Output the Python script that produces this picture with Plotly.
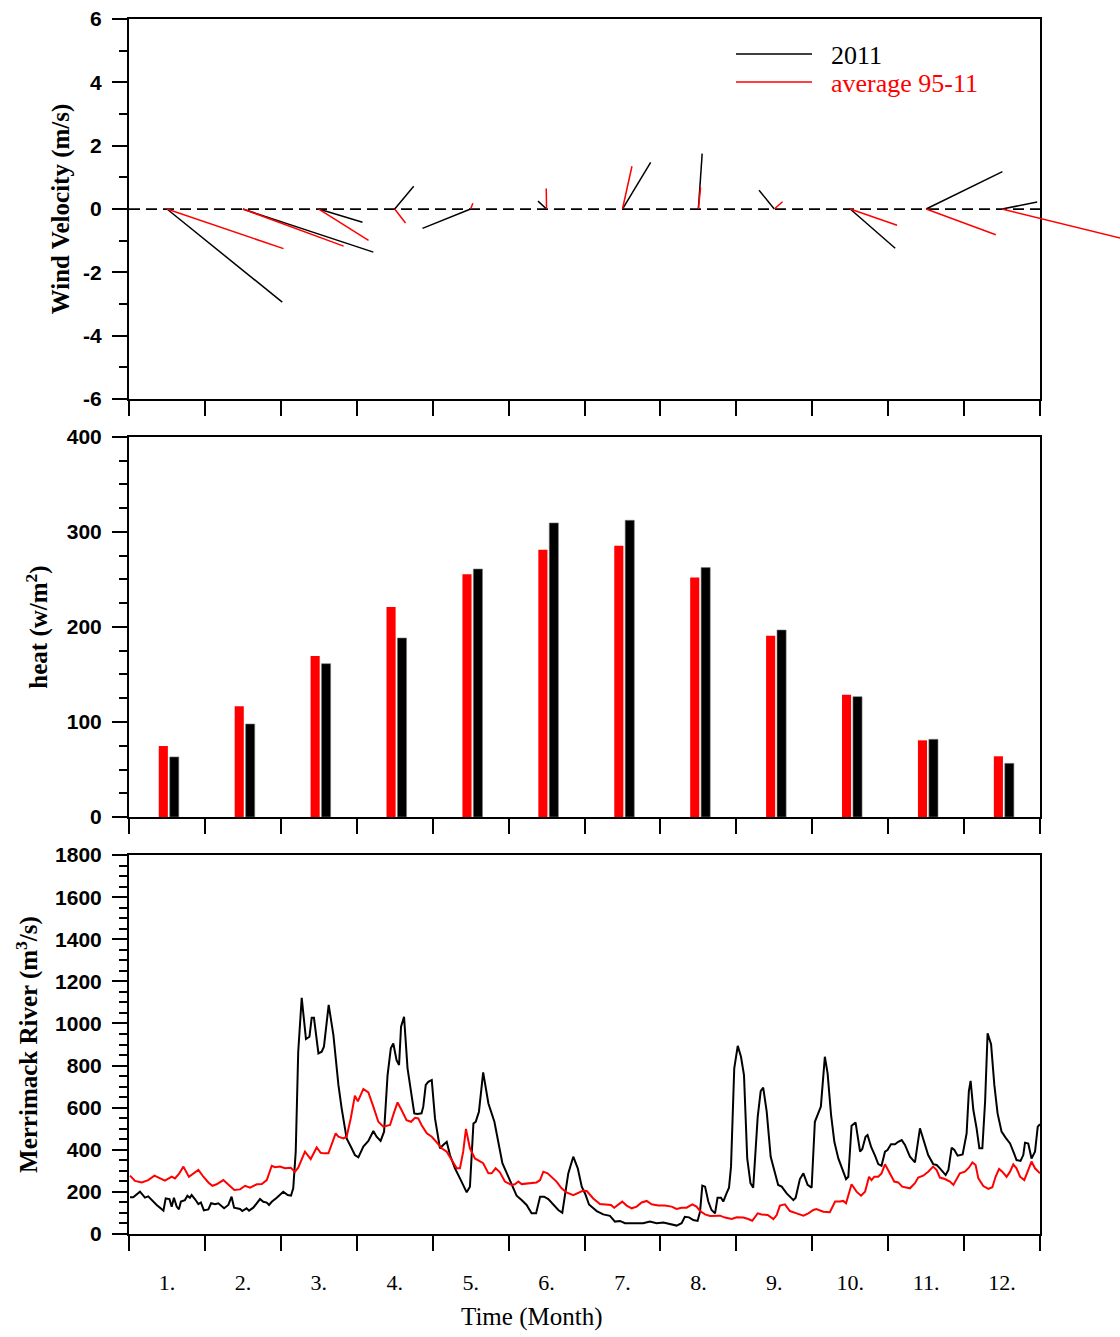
import plotly.graph_objects as go

# ---------------------------------------------------------------- data
month_labels = ["1.", "2.", "3.", "4.", "5.", "6.", "7.", "8.", "9.", "10.", "11.", "12."]

# monthly mean wind vectors (m/s): east (u) and north (v) components
wind_u_2011 = [3.64, 4.12, 1.38, 0.60, -1.52, -0.27, 0.89, 0.12, -0.48, 1.42, 2.41, 1.11]
wind_v_2011 = [-2.94, -1.36, -0.42, 0.72, -0.61, 0.25, 1.47, 1.75, 0.59, -1.24, 1.18, 0.22]
wind_u_avg = [3.68, 3.18, 1.57, 0.34, 0.07, -0.01, 0.30, 0.07, 0.26, 1.48, 2.20, 4.90]
wind_v_avg = [-1.25, -1.17, -0.99, -0.44, 0.18, 0.65, 1.35, 0.68, 0.23, -0.51, -0.81, -1.20]

# monthly mean surface heat flux (W/m2)
heat_avg = [74.7, 116.5, 169.5, 221.0, 255.4, 281.4, 285.6, 252.0, 190.9, 128.8, 80.7, 63.9]
heat_2011 = [63.2, 97.9, 161.4, 188.4, 261.0, 309.5, 312.3, 262.5, 196.8, 126.7, 81.8, 56.5]

# Merrimack River discharge (m3/s) by day of year
river_2011_day = [
    0.4, 1.7, 4.4, 6.4, 7.7, 11.1, 13.8, 14.7, 16.2, 17.1, 18.0, 19.1, 20.0, 20.8, 22.4, 23.4,
    24.4, 25.1, 26.4, 27.8, 28.8, 30.0, 31.8, 32.9, 34.5, 35.8, 38.1, 39.8, 41.1, 42.1, 44.5,
    45.4, 47.1, 48.1, 49.8, 52.5, 53.8, 55.2, 56.1, 57.2, 59.2, 61.8, 63.6, 64.9, 65.8, 66.8,
    67.8, 69.2, 70.9, 72.3, 73.2, 74.1, 75.9, 77.2, 78.1, 80.0, 81.9, 83.9, 85.2, 87.2, 89.2,
    90.5, 91.9, 93.9, 95.9, 97.9, 99.2, 100.8, 102.2, 103.6, 104.9, 105.9, 107.2, 108.2, 109.0,
    110.2, 111.6, 113.0, 114.3, 115.6, 117.2, 117.9, 118.9, 119.9, 121.3, 122.6, 124.6, 125.9,
    127.3, 128.6, 130.6, 132.6, 135.3, 136.6, 138.0, 138.9, 140.2, 141.9, 144.0, 146.4, 148.0,
    149.6, 151.7, 153.6, 155.3, 157.3, 159.3, 161.3, 163.1, 164.7, 166.3, 168.0, 170.0, 172.0,
    173.6, 174.7, 176.0, 178.0, 179.8, 181.4, 182.8, 184.3, 185.4, 187.4, 190.0, 192.7, 194.7,
    196.7, 198.7, 202.7, 206.0, 208.7, 211.4, 214.1, 216.7, 219.4, 221.4, 222.7, 224.4, 226.1,
    227.8, 228.8, 229.7, 230.8, 232.1, 233.4, 234.8, 235.8, 237.2, 238.1, 239.4, 240.4, 241.2,
    242.5, 243.9, 245.2, 246.4, 247.7, 249.0, 250.1, 251.9, 253.1, 254.1, 255.5, 257.1, 258.8,
    260.1, 261.5, 263.5, 266.2, 267.1, 268.8, 270.2, 271.9, 273.5, 274.8, 275.6, 277.2, 278.8,
    279.9, 281.3, 282.6, 284.2, 285.8, 287.3, 288.2, 289.5, 291.1, 292.9, 293.8, 295.1, 295.9,
    297.3, 298.9, 300.2, 301.5, 302.9, 303.9, 305.3, 306.9, 308.2, 309.6, 310.9, 312.9, 314.9,
    316.9, 318.5, 320.2, 322.2, 323.6, 324.9, 327.2, 328.3, 329.6, 330.7, 332.0, 334.0, 335.6,
    336.5, 337.2, 338.3, 339.6, 340.7, 341.9, 343.0, 344.0, 345.4, 346.7, 348.0, 349.6, 351.2,
    353.0, 354.6, 355.6, 357.2, 358.3, 359.0, 360.3, 361.6, 363.0, 364.1, 365.0,
]
river_2011 = [
    174, 174, 201, 173, 179, 138, 111, 169, 166, 130, 172, 130, 117, 154, 161, 182,
    172, 185, 166, 142, 150, 112, 117, 146, 141, 146, 122, 138, 177, 125, 119,
    109, 122, 111, 125, 166, 153, 149, 138, 153, 172, 201, 185, 182, 217, 391,
    866, 1122, 926, 937, 1027, 1027, 858, 866, 890, 1088, 945, 708, 597, 454, 407,
    375, 364, 415, 442, 489, 462, 442, 486, 755, 882, 905, 826, 803, 985,
    1032, 787, 676, 573, 570, 573, 605, 708, 723, 731, 549, 407, 423,
    438, 375, 312, 264, 198, 225, 525, 533, 581, 768, 620, 533, 438,
    336, 280, 225, 182, 161, 138, 98, 98, 177, 177, 166, 138, 114,
    101, 185, 288, 367, 312, 225, 190, 140, 130, 109, 93, 86, 59,
    62, 51, 51, 51, 59, 51, 55, 46, 40, 51, 82, 79, 66,
    62, 106, 230, 225, 154, 114, 98, 172, 172, 154, 193, 220, 320,
    787, 894, 842, 755, 359, 241, 220, 557, 679, 695, 581, 367, 288,
    233, 225, 193, 161, 172, 261, 288, 233, 220, 533, 557, 605, 842,
    763, 565, 438, 359, 304, 261, 272, 514, 530, 391, 404, 462, 470,
    415, 372, 332, 324, 391, 399, 426, 426, 438, 446, 423, 367, 340,
    502, 438, 375, 332, 328, 312, 280, 304, 410, 399, 372, 378, 478,
    679, 727, 589, 502, 407, 407, 628, 953, 901, 708, 573, 486, 458,
    430, 383, 351, 347, 375, 434, 430, 359, 391, 510, 521,
]

river_avg_day = [
    0.4, 2.4, 5.1, 7.7, 10.2, 12.4, 14.4, 17.1, 18.4, 20.0, 21.8, 24.0, 25.8, 27.8, 29.8, 31.8,
    33.4, 35.1, 37.8, 39.8, 42.2, 44.5, 46.5, 48.5, 51.2, 53.2, 55.2, 57.2, 58.5, 60.5, 62.5,
    64.8, 66.5, 67.8, 69.2, 70.5, 72.8, 73.9, 75.2, 76.8, 78.1, 79.9, 81.2, 82.8, 83.9, 85.9,
    87.2, 88.9, 90.5, 91.7, 93.9, 95.9, 97.9, 99.9, 101.9, 104.6, 106.3, 107.6, 109.2, 111.2,
    113.0, 114.6, 115.9, 117.2, 119.3, 121.3, 123.3, 125.3, 127.3, 129.3, 131.3, 132.6, 133.9,
    135.0, 136.6, 138.6, 140.6, 141.9, 144.0, 145.3, 146.9, 148.6, 150.6, 153.3, 154.6, 156.0,
    157.3, 160.0, 163.3, 164.7, 166.0, 167.7, 169.3, 171.3, 173.3, 175.3, 178.0, 179.8, 182.0,
    183.5, 186.0, 188.7, 191.4, 193.1, 194.4, 196.0, 197.6, 199.4, 201.4, 203.4, 205.4, 207.4,
    209.4, 212.1, 214.7, 217.4, 219.4, 221.4, 223.4, 225.7, 227.4, 228.8, 230.8, 232.8, 235.4,
    236.8, 238.8, 241.5, 243.5, 246.1, 248.1, 249.7, 251.9, 253.5, 255.9, 258.2, 259.5, 260.8,
    262.8, 264.8, 267.5, 270.2, 272.2, 274.2, 275.4, 278.2, 280.8, 282.9, 284.8, 286.2, 287.3,
    288.2, 289.5, 291.5, 293.3, 294.9, 296.5, 297.5, 298.6, 300.2, 301.5, 302.9, 304.5, 306.6,
    308.2, 309.8, 312.9, 314.9, 316.2, 318.2, 320.2, 322.2, 323.6, 324.9, 326.9, 328.9, 330.3,
    331.6, 332.9, 334.9, 336.5, 337.9, 339.2, 340.3, 342.3, 344.3, 345.9, 347.2, 348.6, 349.9,
    351.6, 353.0, 354.3, 355.6, 357.0, 358.7, 360.3, 361.6, 363.0, 364.3, 365.0,
]
river_avg = [
    277, 252, 245, 256, 277, 264, 253, 272, 264, 285, 320, 272, 288, 304, 272, 245,
    229, 236, 256, 233, 209, 212, 229, 220, 236, 237, 256, 324, 317, 320, 312,
    315, 296, 315, 351, 391, 356, 383, 411, 386, 383, 383, 423, 478, 462, 454,
    462, 552, 657, 630, 689, 673, 605, 533, 510, 518, 581, 625, 589, 541,
    533, 552, 549, 518, 478, 462, 435, 407, 391, 351, 312, 312, 391,
    499, 407, 359, 347, 336, 288, 288, 312, 293, 249, 233, 236, 249,
    237, 241, 245, 256, 296, 288, 272, 249, 217, 198, 185, 193, 206,
    203, 169, 142, 141, 138, 125, 138, 154, 135, 122, 130, 150, 157,
    141, 135, 135, 130, 119, 125, 125, 141, 130, 109, 93, 86, 87,
    87, 78, 71, 79, 78, 71, 63, 98, 93, 90, 71, 90, 135,
    141, 109, 98, 87, 98, 114, 119, 106, 103, 154, 154, 157, 146,
    185, 236, 201, 182, 201, 272, 256, 272, 272, 288, 331, 296, 249,
    245, 225, 217, 241, 268, 277, 296, 320, 304, 268, 261, 249, 233,
    264, 288, 296, 315, 340, 328, 264, 228, 214, 222, 272, 309, 296,
    272, 296, 331, 312, 272, 256, 304, 344, 312, 293, 288,
]

wind_ticks = [-6, -4, -2, 0, 2, 4, 6]
wind_ticktext = ["-6", "-4", "-2", "0", "2", "4", "6"]
heat_ticks = [0, 100, 200, 300, 400]
river_ticks = [0, 200, 400, 600, 800, 1000, 1200, 1400, 1600, 1800]

# ---------------------------------------------------------------- layout geometry
W, H = 1120, 1337
M_L, M_R, M_T, M_B = 129, 0, 19, 103
plot_w = W - M_L - M_R          # full drawable width (to the page edge)
plot_h = H - M_T - M_B
frame_w = 911                   # width of the framed axes
x_dom = [0, frame_w / plot_w]
top_dom = [0.6872, 1.0]
mid_dom = [0.3432, 0.6560]
bot_dom = [0.0, 0.3119]

SERIF = "Liberation Serif"
SANS = "Liberation Sans"

n_months = len(month_labels)
centers = [i + 0.5 for i in range(n_months)]
bounds = list(range(n_months + 1))
days_per_year = 365.0
day_bounds = [b * days_per_year / n_months for b in bounds]
day_centers = [(i + 0.5) * days_per_year / n_months for i in range(n_months)]

# wind sticks share one scale: 1 m/s spans the same length in x and y
wind_range = 12.0
px_per_ms = (top_dom[1] - top_dom[0]) * plot_h / wind_range
px_per_month = frame_w / n_months
u_scale = px_per_ms / px_per_month
# the stick axis runs to the page edge so long sticks are not cut at the frame
stick_range = [0, n_months * plot_w / frame_w]


def stick_coords(us, vs):
    xs, ys = [], []
    for c, u, v in zip(centers, us, vs):
        xs += [c, c + u * u_scale, None]
        ys += [0, v, None]
    return xs, ys


fig = go.Figure()

# ---------------------------------------------------------------- top: wind sticks
fig.add_trace(go.Scatter(x=[0, n_months], y=[0, 0], mode="lines",
                         line=dict(color="black", width=1.8, dash="11px,6px"),
                         xaxis="x", yaxis="y", showlegend=False, hoverinfo="skip"))
bx, by = stick_coords(wind_u_2011, wind_v_2011)
fig.add_trace(go.Scatter(x=bx, y=by, mode="lines", line=dict(color="black", width=1.5),
                         xaxis="x4", yaxis="y", showlegend=False))
rx, ry = stick_coords(wind_u_avg, wind_v_avg)
fig.add_trace(go.Scatter(x=rx, y=ry, mode="lines", line=dict(color="red", width=1.5),
                         xaxis="x4", yaxis="y", showlegend=False))

# ---------------------------------------------------------------- middle: heat flux bars
fig.add_trace(go.Bar(x=centers, y=heat_avg, width=0.12, offset=-0.108,
                     marker=dict(color="red", line=dict(width=0)),
                     xaxis="x2", yaxis="y2", showlegend=False))
fig.add_trace(go.Bar(x=centers, y=heat_2011, width=0.12, offset=0.036,
                     marker=dict(color="black", line=dict(color="#777777", width=0.6)),
                     xaxis="x2", yaxis="y2", showlegend=False))

# ---------------------------------------------------------------- bottom: river discharge
fig.add_trace(go.Scatter(x=river_2011_day, y=river_2011, mode="lines",
                         line=dict(color="black", width=2),
                         xaxis="x3", yaxis="y3", showlegend=False))
fig.add_trace(go.Scatter(x=river_avg_day, y=river_avg, mode="lines",
                         line=dict(color="red", width=2),
                         xaxis="x3", yaxis="y3", showlegend=False))


# ---------------------------------------------------------------- legend and x title
def px_to_paper_x(px):
    return (px - M_L) / plot_w


def px_to_paper_y(py):
    return (H - M_B - py) / plot_h


shapes = []
annotations = []
for py, col in [(54, "black"), (82, "red")]:
    shapes.append(dict(type="line", xref="paper", yref="paper",
                       x0=px_to_paper_x(736), x1=px_to_paper_x(812),
                       y0=px_to_paper_y(py), y1=px_to_paper_y(py),
                       line=dict(color=col, width=1.5)))
for py, txt, col in [(55, "2011", "black"), (84, "average 95-11", "red")]:
    annotations.append(dict(x=px_to_paper_x(829), y=px_to_paper_y(py), xref="paper", yref="paper",
                            xanchor="left", yanchor="middle", showarrow=False, text=txt,
                            font=dict(family=SERIF, size=26, color=col)))
annotations.append(dict(x=px_to_paper_x(531), y=px_to_paper_y(1317), xref="paper", yref="paper",
                        xanchor="center", yanchor="middle", showarrow=False, text="Time (Month)",
                        font=dict(family=SERIF, size=25, color="black")))

# ---------------------------------------------------------------- axes
frame = dict(showline=True, linecolor="black", linewidth=2, mirror=True,
             showgrid=False, zeroline=False, automargin=False)
ytick_font = dict(family=SANS, size=21, color="black", weight="bold")
ytitle_font = dict(family=SERIF, size=25, color="black", weight="bold")

xaxis_common = dict(frame, domain=x_dom, range=[0, n_months], tickmode="array", tickvals=bounds,
                    ticks="outside", ticklen=15, tickwidth=1.8, tickcolor="black",
                    showticklabels=False)
yaxis_common = dict(frame, ticks="outside", ticklen=15, tickwidth=1.8, tickcolor="black",
                    tickfont=ytick_font, ticklabelstandoff=6)

fig.update_layout(
    width=W, height=H,
    margin=dict(l=M_L, r=M_R, t=M_T, b=M_B),
    paper_bgcolor="white", plot_bgcolor="rgba(0,0,0,0)",
    barmode="overlay",
    shapes=shapes,
    annotations=annotations,
    xaxis=dict(xaxis_common, anchor="y"),
    xaxis4=dict(domain=[0, 1], range=stick_range, anchor="y",
                visible=False, showgrid=False, zeroline=False),
    yaxis=dict(yaxis_common, domain=top_dom, anchor="x", range=[-6, 6],
               tickmode="array", tickvals=wind_ticks, ticktext=wind_ticktext,
               minor=dict(dtick=1, tick0=0, ticks="outside", ticklen=8, tickwidth=1.5,
                          tickcolor="black", showgrid=False),
               title=dict(text="Wind Velocity (m/s)", font=ytitle_font, standoff=6)),
    xaxis2=dict(xaxis_common, anchor="y2"),
    yaxis2=dict(yaxis_common, domain=mid_dom, anchor="x2", range=[0, 400],
                tickmode="array", tickvals=heat_ticks,
                minor=dict(dtick=25, tick0=0, ticks="outside", ticklen=8, tickwidth=1.5,
                           tickcolor="black", showgrid=False),
                title=dict(text="heat (w/m<sup>2</sup>)", font=ytitle_font, standoff=12)),
    xaxis3=dict(frame, domain=x_dom, anchor="y3", range=[0, days_per_year],
                tickmode="array", tickvals=day_centers, ticktext=month_labels,
                ticks="", tickfont=dict(family=SERIF, size=22, color="black"),
                ticklabelstandoff=28,
                minor=dict(tickmode="array", tickvals=day_bounds, ticks="outside",
                           ticklen=15, tickwidth=1.8, tickcolor="black", showgrid=False)),
    yaxis3=dict(yaxis_common, domain=bot_dom, anchor="x3", range=[0, 1800],
                tickmode="array", tickvals=river_ticks,
                minor=dict(dtick=50, tick0=0, ticks="outside", ticklen=8, tickwidth=1.5,
                           tickcolor="black", showgrid=False),
                title=dict(text="Merrimack River (m<sup>3</sup>/s)", font=ytitle_font,
                           standoff=10)),
)

fig.write_html("out.html")
